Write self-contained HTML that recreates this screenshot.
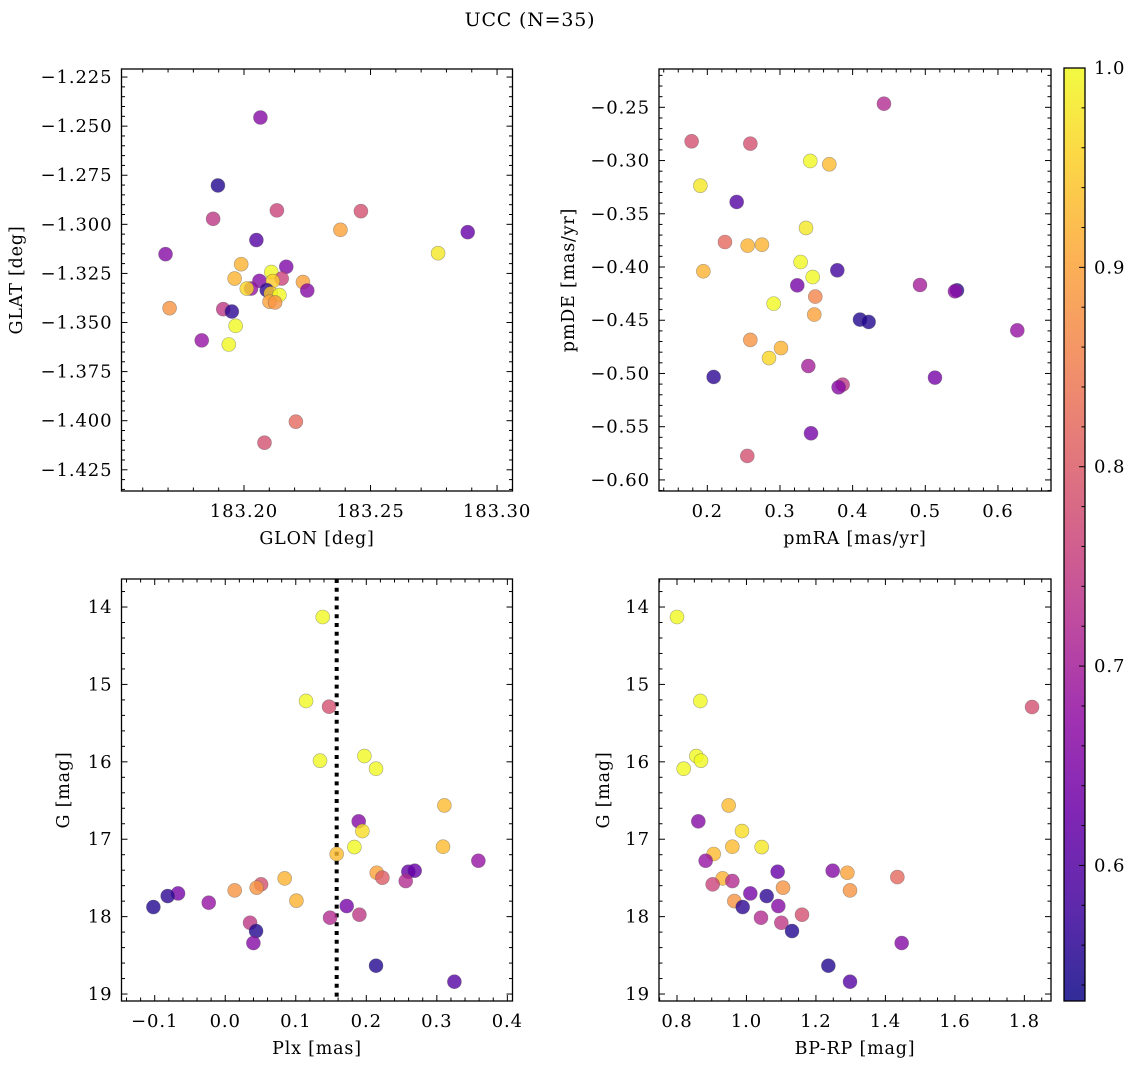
<!DOCTYPE html>
<html><head><meta charset="utf-8">
<style>
html,body{margin:0;padding:0;background:#fff;}
svg{display:block;font-family:"DejaVu Serif","Liberation Serif",serif;}
</style></head>
<body>
<svg id="chart" width="1136" height="1068" viewBox="0 0 1136 1068" xmlns="http://www.w3.org/2000/svg">
<text x="530" y="26" font-size="19" letter-spacing="0.8" text-anchor="middle">UCC (N=35)</text>
</svg>
<script>
// ---- Panel 1: GLON vs GLAT ----
const glon = [183.2065,183.1897,183.1878,183.2130,183.2462,183.2381,183.2049,183.2884,183.1690,183.2767,183.1989,183.2167,183.1963,183.2108,183.2061,183.2149,183.2114,183.2233,183.2028,183.2011,183.2090,183.2250,183.2106,183.2140,183.2101,183.2123,183.1706,183.1918,183.1952,183.1967,183.1833,183.1940,183.2205,183.2081];
const glat = [-1.2456,-1.2802,-1.2972,-1.2929,-1.2933,-1.3028,-1.3080,-1.3040,-1.3152,-1.3147,-1.3203,-1.3216,-1.3276,-1.3243,-1.3288,-1.3276,-1.3289,-1.3294,-1.3327,-1.3327,-1.3335,-1.3337,-1.3352,-1.3360,-1.3394,-1.3398,-1.3427,-1.3432,-1.3444,-1.3517,-1.3591,-1.3612,-1.4005,-1.4112];
const prob1 = [0.66,0.55,0.74,0.76,0.78,0.9,0.6,0.62,0.66,0.98,0.92,0.65,0.92,1.0,0.66,0.76,0.95,0.9,0.68,0.96,0.56,0.66,0.95,1.0,0.9,0.88,0.88,0.74,0.56,1.0,0.68,1.0,0.82,0.78];
// ---- Panel 2: pmRA vs pmDE ----
const pmra = [0.4431,0.1784,0.2592,0.3417,0.3679,0.1904,0.2404,0.3358,0.2243,0.2555,0.2752,0.3284,0.1945,0.3789,0.3450,0.3238,0.4927,0.5436,0.5408,0.3486,0.2913,0.3472,0.4101,0.4220,0.6266,0.2592,0.3014,0.2849,0.3390,0.2087,0.5133,0.3862,0.3807,0.3427,0.2550];
const pmde = [-0.2466,-0.2819,-0.2841,-0.3004,-0.3035,-0.3236,-0.3389,-0.3633,-0.3765,-0.3799,-0.3790,-0.3953,-0.4040,-0.4031,-0.4094,-0.4172,-0.4169,-0.4219,-0.4228,-0.4278,-0.4344,-0.4447,-0.4494,-0.4516,-0.4595,-0.4685,-0.4761,-0.4855,-0.4930,-0.5033,-0.5039,-0.5105,-0.5130,-0.5562,-0.5775];
const prob2 = [0.72,0.78,0.78,1.0,0.93,0.98,0.6,0.98,0.82,0.92,0.92,1.0,0.92,0.58,1.0,0.64,0.7,0.56,0.67,0.86,1.0,0.9,0.55,0.55,0.68,0.88,0.92,0.96,0.7,0.56,0.64,0.74,0.66,0.64,0.78];
// ---- Panel 3: Plx vs G ----
const plx = [0.1382,0.1146,0.1472,0.1344,0.1973,0.2138,0.3107,0.1892,0.1944,0.3088,0.1831,0.1580,0.3589,0.2596,0.2686,0.2148,0.2228,0.2559,0.0843,0.0508,0.0446,0.0134,-0.0669,-0.0816,-0.1019,-0.0234,0.1009,0.1722,0.1902,0.1486,0.0352,0.0437,0.0399,0.2138,0.3249];
const gmag3 = [14.129,15.214,15.288,15.985,15.925,16.089,16.563,16.769,16.894,17.097,17.101,17.191,17.278,17.420,17.407,17.433,17.497,17.540,17.506,17.583,17.626,17.661,17.700,17.734,17.876,17.820,17.794,17.863,17.975,18.014,18.079,18.186,18.341,18.634,18.841];
const prob3 = [1.0,1.0,0.78,1.0,1.0,1.0,0.93,0.66,0.97,0.93,1.0,0.93,0.68,0.62,0.62,0.9,0.8,0.72,0.92,0.78,0.88,0.88,0.64,0.56,0.55,0.68,0.92,0.64,0.74,0.72,0.74,0.55,0.66,0.55,0.6];
const plxLine = [0.158];
// ---- Panel 4: BP-RP vs G ----
const bprp = [0.800,0.8672,1.8221,0.8557,0.8691,0.8192,0.9488,0.8614,0.9871,0.9593,1.0438,0.9056,0.8825,1.0898,1.2482,1.2904,1.4344,0.9315,0.9593,0.9027,1.1052,1.2981,1.0111,1.0582,0.9651,0.9891,1.0917,1.0418,1.1599,1.1004,1.1311,1.4468,1.2357,1.2981];
const gmag4 = [14.129,15.214,15.292,15.925,15.985,16.089,16.563,16.769,16.894,17.097,17.101,17.191,17.278,17.420,17.407,17.433,17.489,17.506,17.540,17.583,17.626,17.661,17.700,17.734,17.799,17.876,17.863,18.014,17.975,18.079,18.186,18.341,18.634,18.841];
const prob4 = [1.0,1.0,0.78,1.0,1.0,1.0,0.93,0.66,0.97,0.93,0.98,0.93,0.68,0.62,0.66,0.9,0.82,0.92,0.72,0.76,0.88,0.88,0.64,0.56,0.88,0.56,0.66,0.72,0.78,0.74,0.55,0.66,0.55,0.6];
// ---- tick labels ----
const ticks1x = ["183.20","183.25","183.30"];
const ticks1y = ["-1.225","-1.250","-1.275","-1.300","-1.325","-1.350","-1.375","-1.400","-1.425"];
const ticks2x = ["0.2","0.3","0.4","0.5","0.6"];
const ticks2y = ["-0.25","-0.30","-0.35","-0.40","-0.45","-0.50","-0.55","-0.60"];
const ticks3x = ["-0.1","0.0","0.1","0.2","0.3","0.4"];
const ticksG = ["14","15","16","17","18","19"];
const ticks4x = ["0.8","1.0","1.2","1.4","1.6","1.8"];
const ticksCb = ["0.6","0.7","0.8","0.9","1.0"];
const cMin = 0.532, cMax = 1.0;

const NS = "http://www.w3.org/2000/svg";
const svg = document.getElementById('chart');
const TFS = 18, TLS = 0.9, LFS = 17.5, LLS = 0.8;
function mk(tag, attrs, parent){
  const e = document.createElementNS(NS, tag);
  for (const k in attrs) e.setAttribute(k, attrs[k]);
  (parent||svg).appendChild(e); return e;
}
const plasma = ["#0d0887","#41049d","#6a00a8","#8f0da4","#b12a90","#cc4778","#e16462","#f2844b","#fca636","#fcce25","#f0f921"];
function hex(h){return [parseInt(h.substr(1,2),16),parseInt(h.substr(3,2),16),parseInt(h.substr(5,2),16)];}
function cmap(v){
  let t = (v - cMin)/(cMax - cMin); t = Math.max(0, Math.min(1, t));
  const f = t*10, i = Math.min(9, Math.floor(f)), u = f - i;
  const a = hex(plasma[i]), b = hex(plasma[i+1]);
  return "rgb(" + a.map((x,k)=>Math.round(x+(b[k]-x)*u)).join(",") + ")";
}
const fmt = s => s.replace("-", "\u2212");

function panel(cfg){
  const {name, x0, x1, y0, y1, xmin, xmax, ymin, ymax, invertY} = cfg;
  const sx = v => x0 + (v - xmin)/(xmax - xmin)*(x1 - x0);
  const sy = invertY ? (v => y0 + (v - ymin)/(ymax - ymin)*(y1 - y0))
                     : (v => y1 - (v - ymin)/(ymax - ymin)*(y1 - y0));
  const g = mk('g', {});
  
  
  const eps = 1e-9;
  const xs = Math.ceil(xmin/cfg.xminor - eps), xe = Math.floor(xmax/cfg.xminor + eps);
  for (let k = xs; k <= xe; k++){
    const v = k*cfg.xminor, px = sx(v);
    const major = Math.abs(v/cfg.xmajor - Math.round(v/cfg.xmajor)) < 1e-6;
    const L = major ? 6 : 3.5;
    mk('line', {x1:px, x2:px, y1:y1, y2:y1-L, stroke:'#000','stroke-width':1}, g);
    mk('line', {x1:px, x2:px, y1:y0, y2:y0+L, stroke:'#000','stroke-width':1}, g);
  }
  const ys = Math.ceil(Math.min(ymin,ymax)/cfg.yminor - eps), ye = Math.floor(Math.max(ymin,ymax)/cfg.yminor + eps);
  for (let k = ys; k <= ye; k++){
    const v = k*cfg.yminor, py = sy(v);
    const major = Math.abs(v/cfg.ymajor - Math.round(v/cfg.ymajor)) < 1e-6;
    const L = major ? 6 : 3.5;
    mk('line', {x1:x0, x2:x0+L, y1:py, y2:py, stroke:'#000','stroke-width':1}, g);
    mk('line', {x1:x1, x2:x1-L, y1:py, y2:py, stroke:'#000','stroke-width':1}, g);
  }
  cfg.xticks.forEach(s => {
    const t = mk('text', {x:sx(parseFloat(s)), y:y1+26, 'font-size':TFS, 'letter-spacing':TLS, 'text-anchor':'middle'}, g);
    
    
    t.textContent = fmt(s);
  });
  cfg.yticks.forEach(s => {
    const t = mk('text', {x:x0-9, y:sy(parseFloat(s))+6, 'font-size':TFS, 'letter-spacing':TLS, 'text-anchor':'end'}, g);
    
    
    t.textContent = fmt(s);
  });
  const xt = mk('text', {x:(x0+x1)/2, y:y1+53, 'font-size':LFS, 'letter-spacing':LLS, 'text-anchor':'middle'}, g);
  
  
  xt.textContent = cfg.xlabel;
  const yt = mk('text', {x:0, y:0, 'font-size':LFS, 'letter-spacing':LLS, 'text-anchor':'middle', transform:'translate('+cfg.ylx+','+((y0+y1)/2)+') rotate(-90)'}, g);
  
  
  yt.textContent = cfg.ylabel;
  if (cfg.vline !== undefined){
    const l = mk('line', {x1:sx(cfg.vline), x2:sx(cfg.vline), y1:y0, y2:y1, stroke:'#000','stroke-width':4,'stroke-dasharray':'4 4.8'}, g);
    
    
  }
  cfg.xs.forEach((xv, i) => {
    const c = mk('circle', {cx:sx(xv), cy:sy(cfg.ys[i]), r:7, fill:cmap(cfg.cs[i]), 'fill-opacity':0.8, stroke:'#555', 'stroke-opacity':0.5, 'stroke-width':0.6}, g);
    
    
  });
  const f = mk('rect', {x:x0, y:y0, width:x1-x0, height:y1-y0, fill:'none', stroke:'#000', 'stroke-width':1.3}, g);
  
  
}

panel({name:'glon-glat', x0:121.5, x1:512.5, y0:69, y1:491, xmin:183.1516, xmax:183.3061, ymin:-1.4358, ymax:-1.2209,
  xmajor:0.05, xminor:0.01, ymajor:0.025, yminor:0.005, xticks:ticks1x, yticks:ticks1y,
  xlabel:'GLON [deg]', ylabel:'GLAT [deg]', ylx:22, xs:glon, ys:glat, cs:prob1});
panel({name:'pmra-pmde', x0:659, x1:1051, y0:69, y1:491, xmin:0.1335, xmax:0.673, ymin:-0.6104, ymax:-0.214,
  xmajor:0.1, xminor:0.02, ymajor:0.05, yminor:0.01, xticks:ticks2x, yticks:ticks2y,
  xlabel:'pmRA [mas/yr]', ylabel:'pmDE [mas/yr]', ylx:574, xs:pmra, ys:pmde, cs:prob2});
panel({name:'plx-g', x0:121.5, x1:512.5, y0:579, y1:1001, xmin:-0.1471, xmax:0.4073, ymin:13.638, ymax:19.090, invertY:true,
  xmajor:0.1, xminor:0.02, ymajor:1, yminor:0.2, xticks:ticks3x, yticks:ticksG,
  xlabel:'Plx [mas]', ylabel:'G [mag]', ylx:69, xs:plx, ys:gmag3, cs:prob3, vline:plxLine[0]});
panel({name:'bprp-g', x0:659, x1:1051, y0:579, y1:1001, xmin:0.7482, xmax:1.8767, ymin:13.638, ymax:19.090, invertY:true,
  xmajor:0.2, xminor:0.05, ymajor:1, yminor:0.2, xticks:ticks4x, yticks:ticksG,
  xlabel:'BP-RP [mag]', ylabel:'G [mag]', ylx:609, xs:bprp, ys:gmag4, cs:prob4});

(function(){
  const cx0 = 1064, cx1 = 1085, cy0 = 68, cy1 = 1001;
  const cy = v => cy1 - (v - cMin)/(cMax - cMin)*(cy1 - cy0);
  const defs = mk('defs', {});
  const grad = mk('linearGradient', {id:'cbgrad', x1:0, y1:1, x2:0, y2:0}, defs);
  for (let i = 0; i <= 20; i++){
    const v = cMin + (cMax - cMin)*i/20;
    mk('stop', {offset:(i/20), 'stop-color':cmap(v)}, grad);
  }
  const g = mk('g', {});
  
  
  mk('rect', {x:cx0, y:cy0, width:cx1-cx0, height:cy1-cy0, fill:'url(#cbgrad)', 'fill-opacity':0.85}, g);
  for (let k = Math.ceil(cMin/0.02); k <= 50; k++){
    const v = k*0.02, py = cy(v);
    const major = Math.abs(v*10 - Math.round(v*10)) < 1e-6;
    mk('line', {x1:cx1, x2:cx1-(major?6:3.5), y1:py, y2:py, stroke:'#000','stroke-width':1}, g);
  }
  ticksCb.forEach(s => {
    const t = mk('text', {x:cx1+9, y:cy(parseFloat(s))+6, 'font-size':TFS, 'letter-spacing':TLS}, g);
    
    
    t.textContent = s;
  });
  mk('rect', {x:cx0, y:cy0, width:cx1-cx0, height:cy1-cy0, fill:'none', stroke:'#000','stroke-width':1.3}, g);
})();
</script>
</body></html>
